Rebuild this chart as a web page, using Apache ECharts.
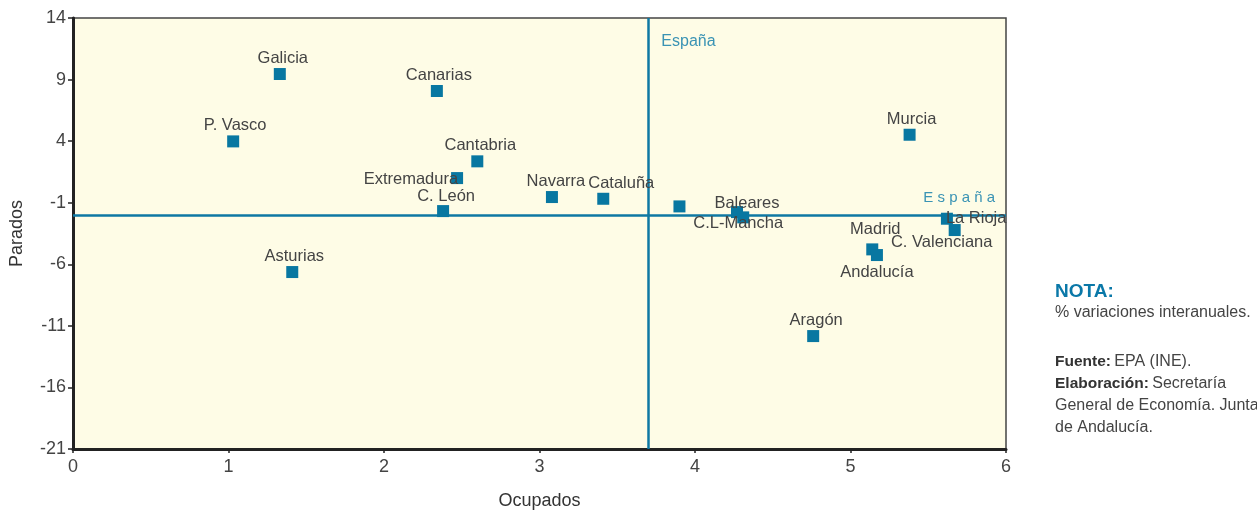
<!DOCTYPE html>
<html><head><meta charset="utf-8">
<script src="https://cdn.jsdelivr.net/npm/echarts@6/dist/echarts.min.js"></script>
<style>html,body{margin:0;padding:0;background:#fff}#c{width:1257px;height:511px}</style>
</head><body><div id="c"></div>
<script>
// ---- Data ----
const regions  = ['Galicia','P. Vasco','Canarias','Cantabria','Extremadura','C. León','Navarra','Cataluña','','Baleares','C.L-Mancha','Murcia','La Rioja','C. Valenciana','Madrid','Andalucía','Aragón','Asturias'];
const ocupados = [1.33, 1.03, 2.34, 2.60, 2.47, 2.38, 3.08, 3.41, 3.90, 4.27, 4.31, 5.38, 5.62, 5.67, 5.14, 5.17, 4.76, 1.41];
const parados  = [9.45, 3.98, 8.07, 2.36, 1.00, -1.68, -0.54, -0.68, -1.30, -1.76, -2.19, 4.52, -2.30, -3.22, -4.79, -5.25, -11.83, -6.63];
const espanaOcupados = 3.70;
const espanaParados = -2.0;
const yTicks = [-21, -16, -11, -6, -1, 4, 9, 14];
const xTicks = [0, 1, 2, 3, 4, 5, 6];

// ---- Label placement (styling) ----
const labelStyle = {
  'Galicia': {position:'top', offset:[3,0]},
  'P. Vasco': {position:'top', offset:[2,0]},
  'Canarias': {position:'top', offset:[2,0]},
  'Cantabria': {position:'top', offset:[3,0]},
  'Extremadura': {position:'left', distance:-7, offset:[0,1]},
  'C. León': {position:'top', offset:[3,1]},
  'Navarra': {position:'top', offset:[4,0]},
  'Cataluña': {position:'top', offset:[18,0]},
  'Baleares': {position:'top', offset:[10,7]},
  'C.L-Mancha': {position:'bottom', offset:[-5,-9]},
  'Murcia': {position:'top', offset:[2,0]},
  'La Rioja': {position:'right', distance:-7, offset:[0,0]},
  'C. Valenciana': {position:'bottom', offset:[-13,-3]},
  'Madrid': {position:'top', offset:[3,-4]},
  'Andalucía': {position:'bottom', offset:[0,2]},
  'Aragón': {position:'top', offset:[3,0]},
  'Asturias': {position:'top', offset:[2,0]}
};

const FONT = '"Liberation Sans", Arial, sans-serif';
const points = regions.map((r, i) => {
  const ls = labelStyle[r] || {show:false};
  return {
    value: [ocupados[i], parados[i]],
    name: r,
    label: Object.assign({show: r !== ''}, ls)
  };
});

const chart = echarts.init(document.getElementById('c'), null, {renderer:'canvas'});
chart.setOption({
  animation: false,
  textStyle: {fontFamily: FONT},
  grid: {left: 73, right: 251, top: 18, bottom: 62, show: true, containLabel: false, outerBoundsMode: 'none',
         backgroundColor: '#fefce6', borderColor: '#444', borderWidth: 1.5},
  xAxis: {
    type: 'value', min: 0, max: 6, interval: 1,
    name: 'Ocupados', nameLocation: 'middle', nameGap: 43,
    nameTextStyle: {fontSize: 18, color: '#333', fontFamily: FONT},
    axisLine: {show: true, onZero: false, lineStyle: {color: '#222', width: 3}},
    axisTick: {show: true, length: 4, lineStyle: {color: '#222', width: 1.5}},
    axisLabel: {fontSize: 18, color: '#444', margin: 9, fontFamily: FONT},
    splitLine: {show: false}
  },
  yAxis: {
    type: 'value', min: -21, max: 14,
    name: 'Parados', nameLocation: 'middle', nameGap: 47,
    nameTextStyle: {fontSize: 18, color: '#333', fontFamily: FONT},
    axisLine: {show: true, onZero: false, lineStyle: {color: '#222', width: 3}},
    axisTick: {show: true, length: 5, customValues: yTicks, lineStyle: {color: '#222', width: 1.5}},
    axisLabel: {fontSize: 18, color: '#444', margin: 7, customValues: yTicks, fontFamily: FONT},
    splitLine: {show: false}
  },
  series: [
    {
      type: 'scatter',
      name: 'Regiones',
      symbol: 'rect',
      symbolSize: 12,
      z: 3,
      itemStyle: {color: '#0877a1', opacity: 1},
      label: {show: true, formatter: '{b}', fontSize: 16.5, color: '#444', opacity: 1, distance: 1, fontFamily: FONT},
      data: points,
      markLine: {
        silent: true,
        symbol: 'none',
        label: {show: false},
        lineStyle: {color: '#0e78a3', width: 2.5, type: 'solid', opacity: 1},
        data: [{xAxis: espanaOcupados}, {yAxis: espanaParados}],
        z: 2
      },
      markPoint: {
        symbol: 'circle',
        symbolSize: 0,
        data: [
          {coord: [espanaOcupados, 14], label: {show: true, formatter: 'España', position: 'right', distance: 5, offset: [8, 24], fontSize: 16, color: '#3a93b4', fontFamily: FONT}},
          {coord: [6, espanaParados], label: {show: true, formatter: 'E s p a ñ a', position: 'left', distance: 5, offset: [-6, -17], fontSize: 15, color: '#3a93b4', fontFamily: FONT}}
        ]
      }
    }
  ],
  graphic: [
    {type: 'text', left: 1055, top: 282, style: {text: 'NOTA:', fill: '#0a78a8', font: 'bold 19px ' + FONT}},
    {type: 'text', left: 1055, top: 305, style: {text: '% variaciones interanuales.', fill: '#444', font: '16px ' + FONT}},
    {type: 'text', left: 1055, top: 354, style: {
      rich: {
        b: {fontWeight: 'bold', fontSize: 15.5, fill: '#333', fontFamily: FONT, lineHeight: 22},
        n: {fontSize: 16, fill: '#444', fontFamily: FONT, lineHeight: 22}
      },
      text: '{b|Fuente:} {n|EPA (INE).}\n{b|Elaboración:} {n|Secretaría}\n{n|General de Economía. Junta}\n{n|de Andalucía.}'
    }}
  ]
});
</script>
</body></html>
